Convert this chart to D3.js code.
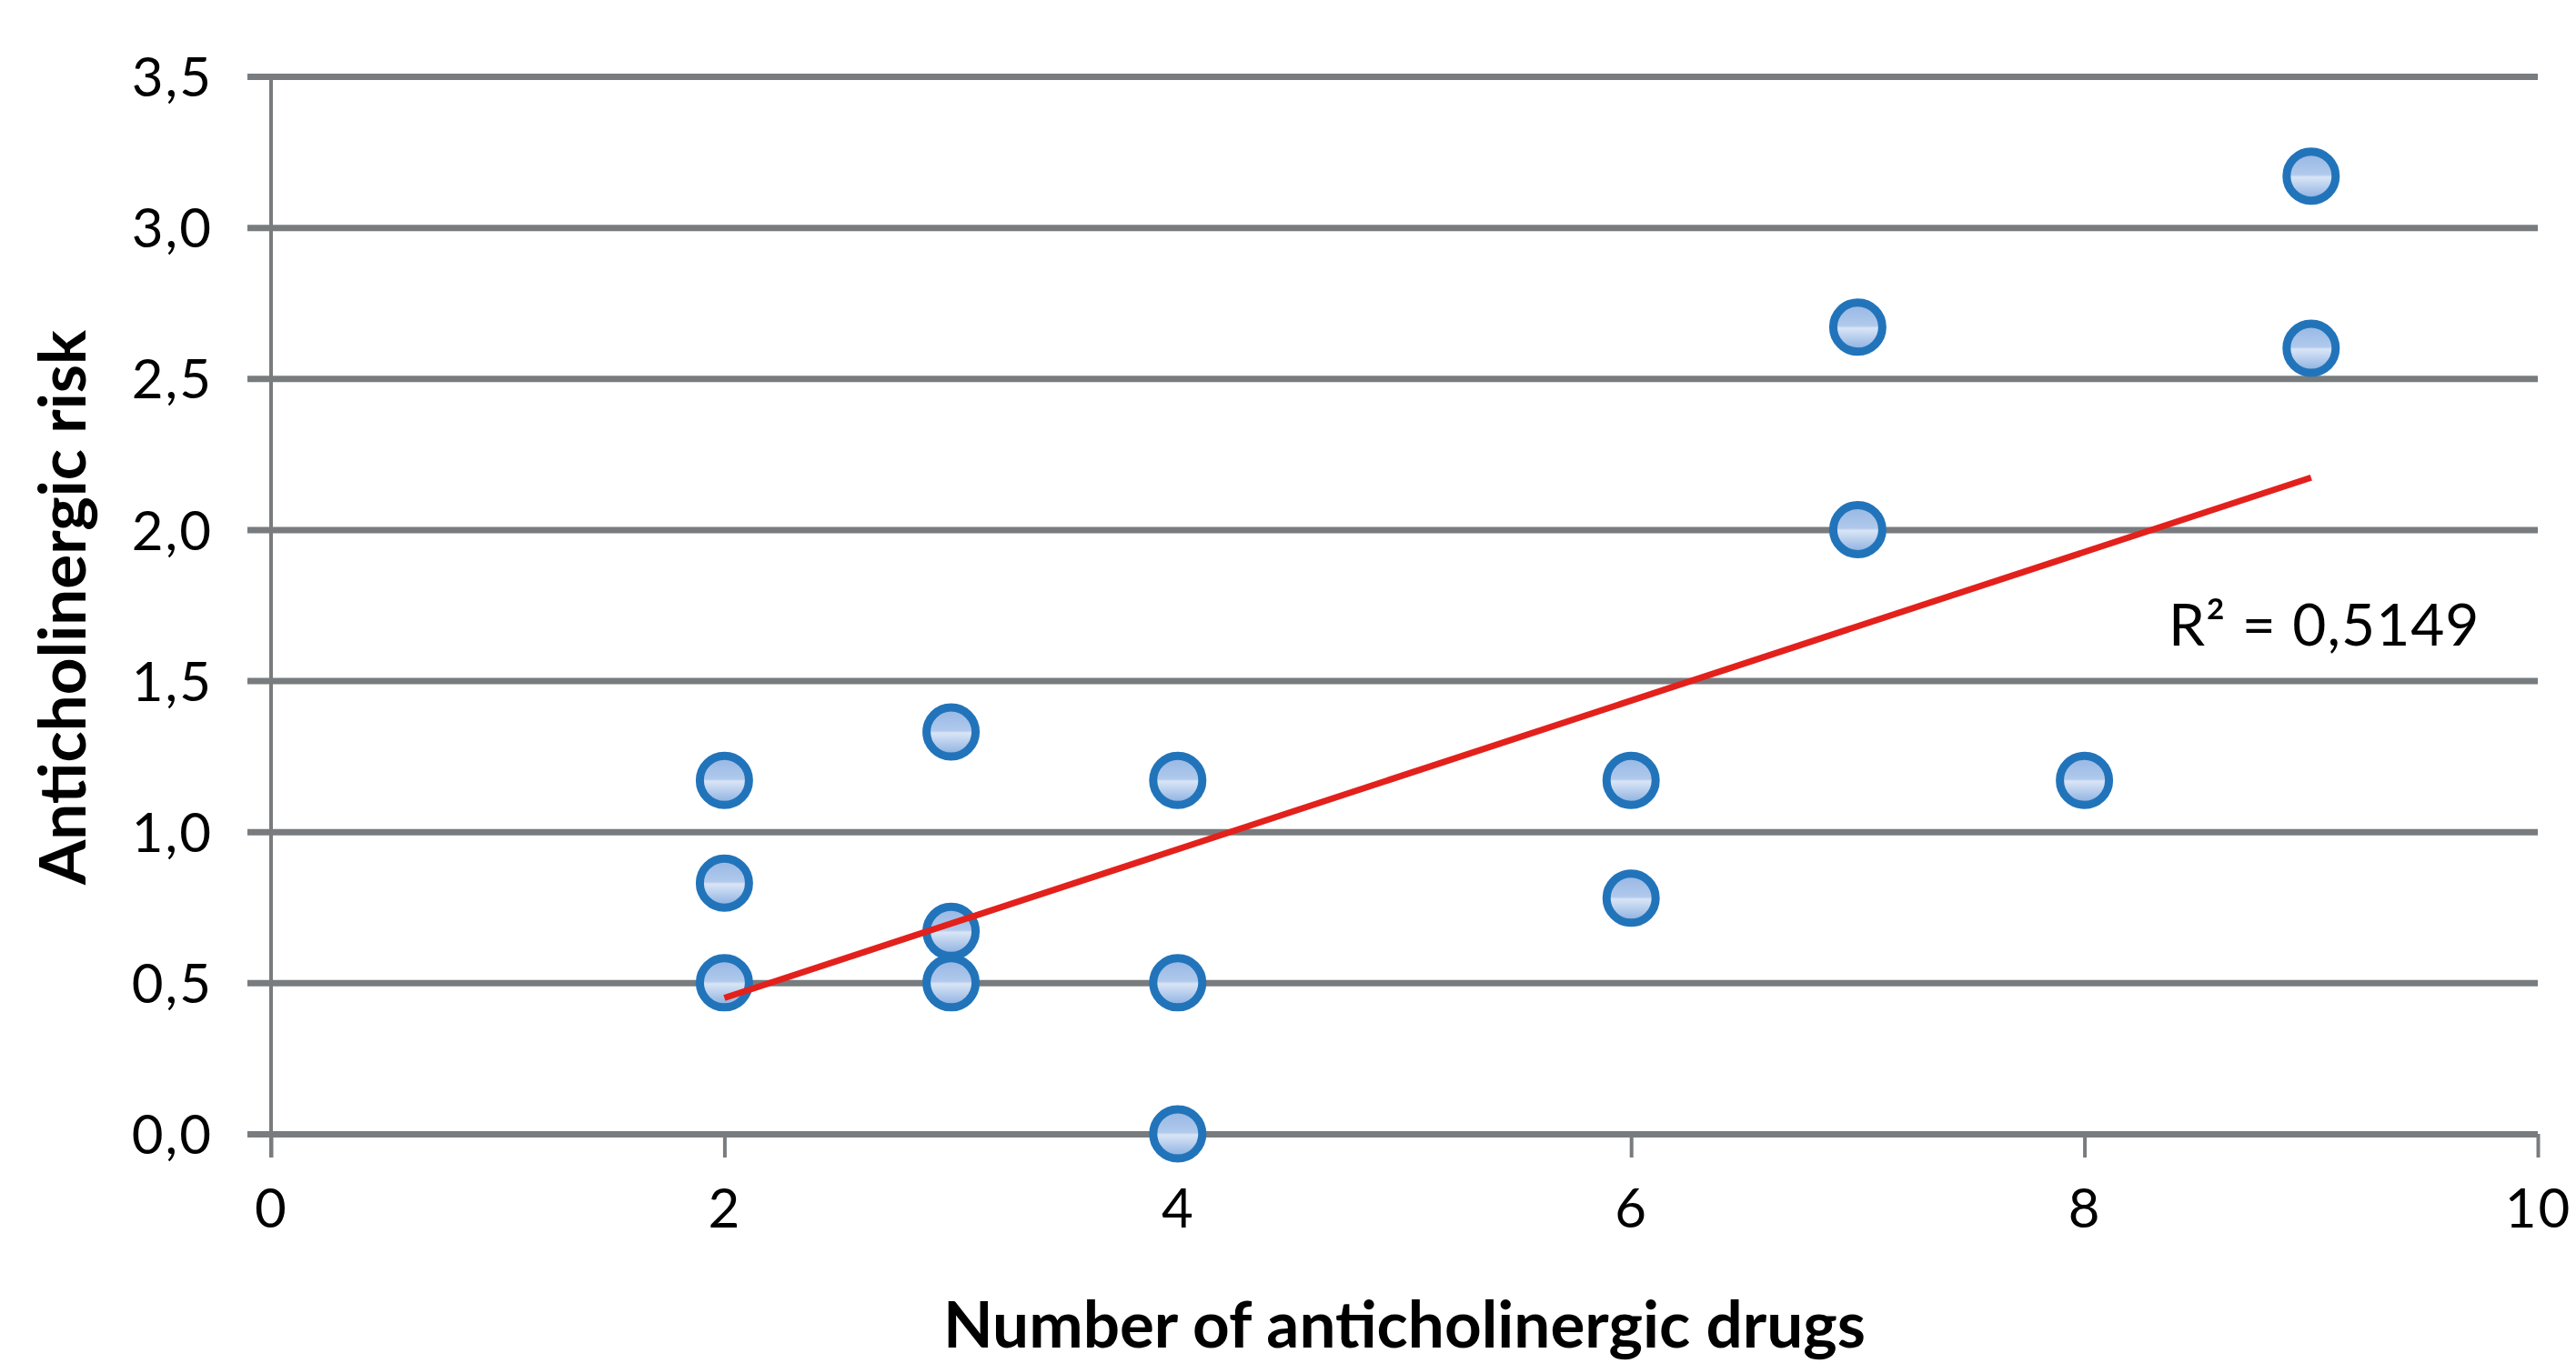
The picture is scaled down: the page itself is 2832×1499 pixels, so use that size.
<!DOCTYPE html>
<html>
	<head>
		<meta charset="utf-8">
		<script src="https://cdnjs.cloudflare.com/ajax/libs/d3/7.8.5/d3.min.js" charset="utf-8"></script>
		<style>
			body { margin: 0; background: #fff; }
			svg { display: block; }
			.tick-label { font-family: Lato, 'Open Sans', sans-serif; font-size: 60px; fill: #000; letter-spacing: 2px; }
			.axis-title { font-family: Lato, 'Open Sans', sans-serif; font-weight: 700; font-size: 71px; fill: #000; }
		</style>
	</head>
	<body>

		<div id="chart"></div>

		<script>

			//////////////////////////////// Data //////////////////////////////
			var drugCounts = [2, 2, 2, 3, 3, 3, 4, 4, 4, 6, 6, 7, 7, 8, 9, 9];
			var riskValues = [1.17, 0.83, 0.5, 1.33, 0.67, 0.5, 1.17, 0.5, 0.0, 1.17, 0.78, 2.67, 2.0, 1.17, 3.17, 2.6];

			var xTicks = [0, 2, 4, 6, 8, 10];
			var yTicks = [0, 0.5, 1, 1.5, 2, 2.5, 3, 3.5];

			// linear trend line
			var trendRange = [2, 9];
			var trendSlope = 0.246;
			var trendIntercept = -0.042;
			var rSquaredLabel = "R² = 0,5149";

			var xTitle = "Number of anticholinergic drugs";
			var yTitle = "Anticholinergic risk";

			//////////////////////////////// Layout //////////////////////////////
			var W = 2832, H = 1499;
			var plot = { left: 298, right: 2790, top: 84, bottom: 1247 };
			var gridColor = "#787c7e";

			var svg = d3.select("#chart").append("svg")
				.attr("width", W)
				.attr("height", H);

			var x = d3.scaleLinear().domain([0, 10]).range([plot.left, plot.right]);
			var y = d3.scaleLinear().domain([0, 3.5]).range([plot.bottom, plot.top]);

			var comma = function(d) { return d3.format(".1f")(d).replace(".", ","); };

			// marker gradient: light blue with a pale band through the middle
			var grad = svg.append("defs").append("linearGradient")
				.attr("id", "markerFill")
				.attr("x1", 0).attr("y1", 0).attr("x2", 0).attr("y2", 1);
			grad.append("stop").attr("offset", "0%").attr("stop-color", "#95b6e3");
			grad.append("stop").attr("offset", "47%").attr("stop-color", "#b0c9ec");
			grad.append("stop").attr("offset", "52%").attr("stop-color", "#d9e5f6");
			grad.append("stop").attr("offset", "100%").attr("stop-color", "#85abde");

			//////////////////////// Gridlines + y axis ///////////////////////////
			var yAxis = d3.axisLeft(y)
				.tickValues(yTicks)
				.tickSize(-(plot.right - plot.left))
				.tickFormat(comma);

			var gy = svg.append("g")
				.attr("transform", "translate(" + plot.left + ",0)")
				.call(yAxis);
			gy.select(".domain").remove();
			gy.selectAll(".tick line")
				.attr("x1", -26)
				.attr("stroke", gridColor)
				.attr("stroke-width", 7);
			gy.selectAll(".tick text")
				.attr("class", "tick-label")
				.attr("x", -64)
				.attr("dy", "0.36em")
				.attr("font-size", null)
				.attr("font-family", null);

			// vertical axis line
			svg.append("line")
				.attr("x1", plot.left).attr("x2", plot.left)
				.attr("y1", plot.top).attr("y2", plot.bottom + 26)
				.attr("stroke", gridColor)
				.attr("stroke-width", 4);

			//////////////////////////////// x axis ///////////////////////////////
			var xAxis = d3.axisBottom(x)
				.tickValues(xTicks)
				.tickSize(26)
				.tickPadding(34)
				.tickFormat(d3.format("d"));

			var gx = svg.append("g")
				.attr("transform", "translate(0," + plot.bottom + ")")
				.call(xAxis);
			gx.select(".domain").remove();
			gx.selectAll(".tick line")
				.attr("stroke", gridColor)
				.attr("stroke-width", 4);
			gx.selectAll(".tick text")
				.attr("class", "tick-label")
				.attr("font-size", null)
				.attr("font-family", null);

			//////////////////////////////// Points ///////////////////////////////
			var points = drugCounts.map(function(d, i) { return { n: d, risk: riskValues[i] }; });

			svg.append("g").selectAll("circle")
				.data(points)
				.enter().append("circle")
				.attr("cx", function(d) { return x(d.n); })
				.attr("cy", function(d) { return y(d.risk); })
				.attr("r", 27)
				.style("fill", "url(#markerFill)")
				.style("stroke", "#2274ba")
				.style("stroke-width", 9);

			//////////////////////////////// Trend ////////////////////////////////
			var line = d3.line()
				.x(function(d) { return x(d); })
				.y(function(d) { return y(trendSlope * d + trendIntercept); });

			svg.append("path")
				.datum(trendRange)
				.attr("d", line)
				.attr("fill", "none")
				.attr("stroke", "#e3211c")
				.attr("stroke-width", 7);

			svg.append("text")
				.attr("class", "tick-label")
				.attr("x", 2384)
				.attr("y", 710)
				.style("font-size", "64px")
				.style("letter-spacing", "1px")
				.text(rSquaredLabel);

			//////////////////////////////// Titles ///////////////////////////////
			svg.append("text")
				.attr("class", "axis-title")
				.attr("text-anchor", "middle")
				.attr("x", 1544)
				.attr("y", 1482)
				.text(xTitle);

			svg.append("text")
				.attr("class", "axis-title")
				.attr("text-anchor", "middle")
				.attr("transform", "translate(94,668) rotate(-90)")
				.text(yTitle);

		</script>

	</body>
</html>
